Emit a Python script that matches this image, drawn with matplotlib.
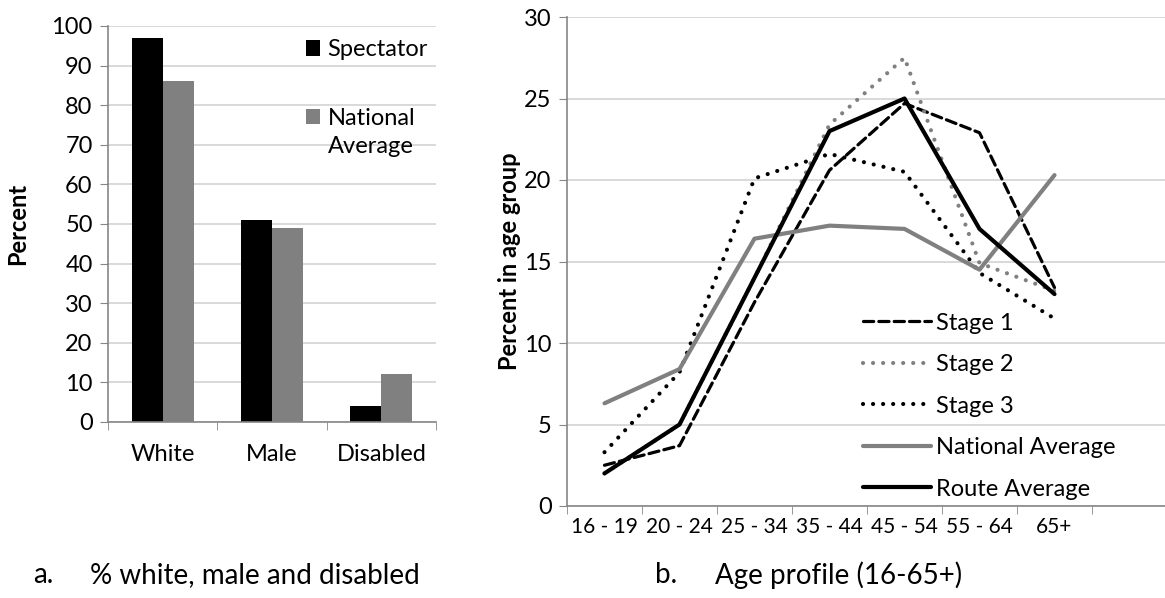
import matplotlib
matplotlib.use("Agg")
import matplotlib.pyplot as plt
import numpy as np

plt.rcParams['font.family'] = ['Lato', 'DejaVu Sans']

# left panel: % white, male and disabled
groups = ['White', 'Male', 'Disabled']
spectator = [97, 51, 4]
national_pct = [86, 49, 12]

# right panel: age profile
age_groups = ['16 - 19', '20 - 24', '25 - 34', '35 - 44', '45 - 54', '55 - 64', '65+']
stage1 = [2.5, 3.7, 12.5, 20.6, 24.7, 22.9, 13.4]
stage2 = [2.0, 5.0, 14.0, 23.4, 27.5, 14.9, 13.2]
stage3 = [3.3, 8.2, 20.1, 21.6, 20.5, 14.3, 11.5]
national_age = [6.3, 8.4, 16.4, 17.2, 17.0, 14.5, 20.3]
route_avg = [2.0, 5.0, 14.0, 23.0, 25.0, 17.0, 13.0]

GREY = '#808080'
GRID = '#d9d9d9'
SPINE = '#868686'
FS = 17

W, H = 1165, 598
fig = plt.figure(figsize=(W / 100, H / 100), dpi=100)


def style_axes(ax, xpad, xsize):
    for s in ['top', 'right']:
        ax.spines[s].set_visible(False)
    for s in ['left', 'bottom']:
        ax.spines[s].set_color(SPINE)
        ax.spines[s].set_linewidth(1.2)
    ax.yaxis.grid(True, color=GRID, linewidth=1.4)
    ax.set_axisbelow(True)
    ax.tick_params(axis='y', length=6, color=SPINE, labelsize=FS, pad=5)
    ax.tick_params(axis='x', which='major', length=0, labelsize=xsize, pad=xpad)
    ax.tick_params(axis='x', which='minor', length=6, color=SPINE, direction='out')


# ---- panel a ----
ax1 = fig.add_axes([108 / W, 1 - 422 / H, 328 / W, 396 / H])
x = np.arange(len(groups))
bw = 0.285
ax1.bar(x - bw / 2, spectator, bw, color='black', label='Spectator')
ax1.bar(x + bw / 2, national_pct, bw, color=GREY, label='National')
ax1.set_xlim(-0.5, len(groups) - 0.5)
ax1.set_ylim(0, 100)
ax1.set_yticks(range(0, 101, 10))
ax1.set_xticks(x)
ax1.set_xticklabels(groups)
ax1.set_xticks(np.arange(-0.5, len(groups), 1), minor=True)
style_axes(ax1, 16, FS)
ax1.set_ylabel('Percent', fontsize=FS, fontweight='bold', labelpad=16)
ax1.legend(loc='upper left', bbox_to_anchor=(0.574, 0.99), frameon=False,
           fontsize=FS, handlelength=0.62, handleheight=0.62, handletextpad=0.3,
           labelspacing=2.0, borderaxespad=0)
ax1.text(0.671, 0.695, 'Average', transform=ax1.transAxes, fontsize=FS,
         va='center', ha='left')

# ---- panel b ----
ax2 = fig.add_axes([567 / W, 1 - 506 / H, 600 / W, 489 / H])
xa = np.arange(len(age_groups))
ax2.plot(xa, stage1, color='black', lw=2.3, linestyle=(0, (3.2, 1.6)),
         dash_capstyle='round', label='Stage 1')
ax2.plot(xa, stage2, color=GREY, lw=3.0, linestyle=(0, (0.01, 2.4)),
         dash_capstyle='round', label='Stage 2')
ax2.plot(xa, stage3, color='black', lw=3.0, linestyle=(0, (0.01, 2.4)),
         dash_capstyle='round', label='Stage 3')
ax2.plot(xa, national_age, color=GREY, lw=3.0, solid_capstyle='round',
         label='National Average')
ax2.plot(xa, route_avg, color='black', lw=3.0, solid_capstyle='round',
         label='Route Average')
ax2.set_xlim(-0.5, 7.5)
ax2.set_ylim(0, 30)
ax2.set_yticks(range(0, 31, 5))
ax2.set_xticks(xa)
ax2.set_xticklabels(age_groups)
ax2.set_xticks(np.arange(-0.5, 8, 1), minor=True)
style_axes(ax2, 8, 15)
ax2.set_ylabel('Percent in age group', fontsize=FS, fontweight='bold', labelpad=2)
ax2.legend(loc='upper left', bbox_to_anchor=(0.477, 0.415), frameon=False,
           fontsize=FS, handlelength=2.9, handletextpad=0.2,
           labelspacing=0.87, borderaxespad=0)

# captions
fig.text(33 / W, 1 - 575 / H, 'a.', fontsize=20, va='center', ha='left')
fig.text(90 / W, 1 - 575 / H, '% white, male and disabled', fontsize=20,
         va='center', ha='left')
fig.text(655 / W, 1 - 575 / H, 'b.', fontsize=20, va='center', ha='left')
fig.text(715 / W, 1 - 575 / H, 'Age profile (16-65+)', fontsize=20,
         va='center', ha='left')

fig.savefig('out.png', dpi=100)
